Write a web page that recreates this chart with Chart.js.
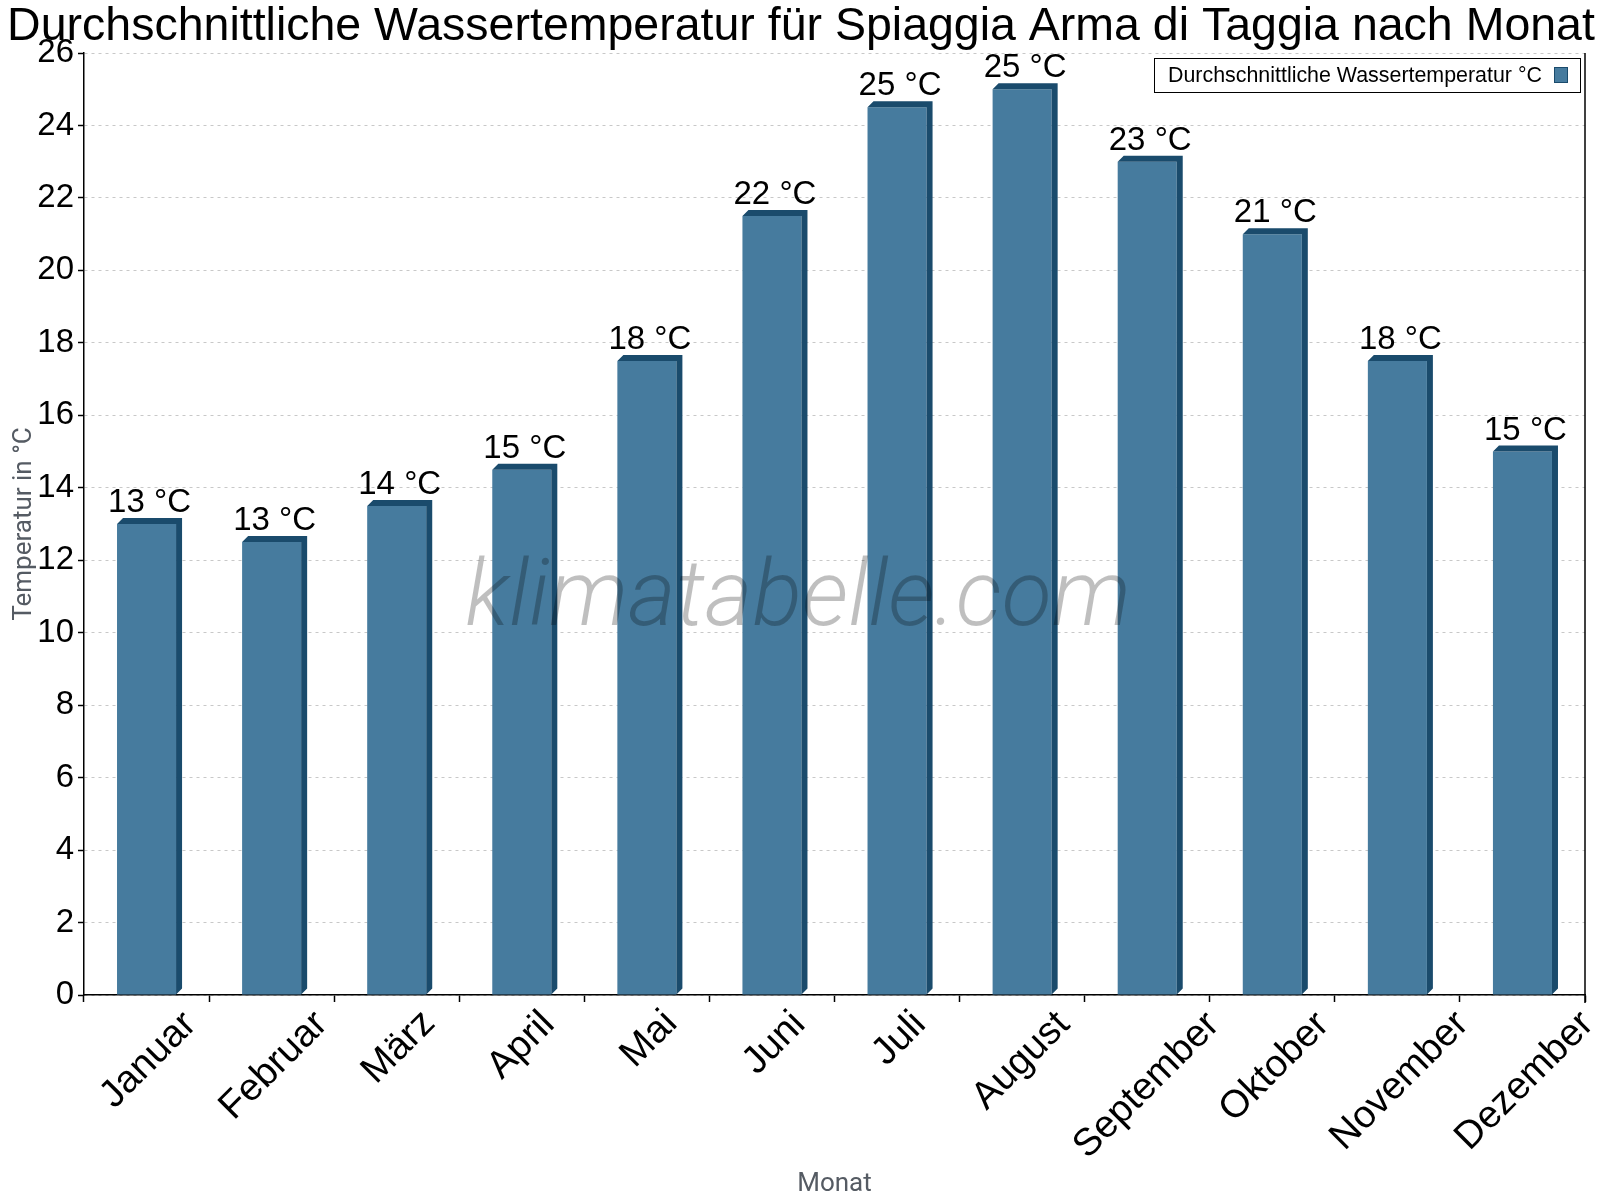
<!DOCTYPE html>
<html><head><meta charset="utf-8">
<script src="https://cdn.jsdelivr.net/npm/chart.js@4/dist/chart.umd.min.js"></script>
<style>html,body{margin:0;padding:0;background:#fff}#wrap{width:1600px;height:1200px;position:relative}</style>
</head><body><div id="wrap"><canvas id="c" width="1600" height="1200"></canvas></div>
<script>
const months = ['Januar','Februar','März','April','Mai','Juni','Juli','August','September','Oktober','November','Dezember'];
const waterTemp = [13, 12.5, 13.5, 14.5, 17.5, 21.5, 24.5, 25, 23, 21, 17.5, 15];
const seriesLabel = 'Durchschnittliche Wassertemperatur °C';
const chartTitle = 'Durchschnittliche Wassertemperatur für Spiaggia Arma di Taggia nach Monat';
const yTitle = 'Temperatur in °C';
const xTitle = 'Monat';
const watermark = 'klimatabelle.com';
const yMin = 0, yMax = 26, yStep = 2;

const FRONT = '#467B9E', DARK = '#1A4B6C', DEPTH = 6;
const FONT = '"Liberation Sans", Arial, sans-serif';

const deco = {
  id: 'deco',
  afterDatasetsDraw(chart) {
    const ctx = chart.ctx;
    const meta = chart.getDatasetMeta(0);
    meta.data.forEach((bar, i) => {
      const p = bar.getProps(['x', 'y', 'base', 'width'], true);
      const x0 = p.x - p.width / 2, x1 = p.x + p.width / 2;
      ctx.save();
      ctx.fillStyle = DARK;
      ctx.beginPath();
      ctx.moveTo(x0, p.y);
      ctx.lineTo(x0 + DEPTH, p.y - DEPTH);
      ctx.lineTo(x1 + DEPTH, p.y - DEPTH);
      ctx.lineTo(x1 + DEPTH, p.base - DEPTH);
      ctx.lineTo(x1, p.base);
      ctx.lineTo(x1, p.y);
      ctx.closePath();
      ctx.fill();
      ctx.font = '33px ' + FONT;
      ctx.textAlign = 'center';
      ctx.textBaseline = 'alphabetic';
      ctx.fillStyle = '#000';
      ctx.fillText(Math.round(waterTemp[i]) + ' °C', p.x + DEPTH / 2, p.y - 12);
      ctx.restore();
    });
    // watermark
    ctx.save();
    ctx.font = 'italic 300 92px Roboto, ' + FONT;
    ctx.fillStyle = 'rgba(0,0,0,0.25)';
    ctx.textAlign = 'center';
    ctx.textBaseline = 'alphabetic';
    ctx.fillText(watermark, 798, 625);
    ctx.restore();
  },
  afterDraw(chart) {
    const ctx = chart.ctx;
    const a = chart.chartArea;
    const xs = chart.scales.x;
    ctx.save();
    // right border
    ctx.strokeStyle = '#000';
    ctx.lineWidth = 1.5;
    ctx.beginPath();
    ctx.moveTo(a.right, a.top);
    ctx.lineTo(a.right, a.bottom + 8);
    ctx.stroke();
    // rotated month labels: bounding box centred under each category
    ctx.font = '38.5px ' + FONT;
    ctx.fillStyle = '#000';
    ctx.textAlign = 'center';
    ctx.textBaseline = 'alphabetic';
    const s = Math.SQRT1_2;
    chart.data.labels.forEach((lab, i) => {
      const m = ctx.measureText(lab);
      const L = m.actualBoundingBoxLeft + m.actualBoundingBoxRight;
      const asc = m.actualBoundingBoxAscent, desc = m.actualBoundingBoxDescent;
      const cx = xs.getPixelForValue(i);
      const px = cx - s * (desc - asc) / 2;
      const py = a.bottom + 12 + s * (L / 2 + asc);
      ctx.save();
      ctx.translate(px, py);
      ctx.rotate(-Math.PI / 4);
      ctx.fillText(lab, 0, 0);
      ctx.restore();
    });
    // title
    ctx.font = '46.5px ' + FONT;
    ctx.fillStyle = '#000';
    ctx.textAlign = 'center';
    ctx.textBaseline = 'alphabetic';
    ctx.fillText(chartTitle, 801, 40);
    // legend
    ctx.lineWidth = 1;
    ctx.strokeStyle = '#000';
    ctx.strokeRect(1154.5, 58.5, 426, 34);
    ctx.font = '21.4px ' + FONT;
    ctx.textAlign = 'left';
    ctx.fillText(chart.data.datasets[0].label, 1168, 82);
    ctx.fillStyle = FRONT;
    ctx.fillRect(1554, 67, 14, 16);
    ctx.strokeStyle = DARK;
    ctx.strokeRect(1554.5, 67.5, 13, 15);
    ctx.restore();
  }
};

new Chart(document.getElementById('c'), {
  type: 'bar',
  data: {
    labels: months,
    datasets: [{
      label: seriesLabel,
      data: waterTemp,
      backgroundColor: FRONT,
      borderWidth: 0,
      categoryPercentage: 1,
      barPercentage: 0.472
    }]
  },
  options: {
    responsive: false,
    animation: false,
    devicePixelRatio: 1,
    layout: { padding: { top: 53, right: 15, left: 0, bottom: 0 } },
    plugins: { legend: { display: false }, title: { display: false }, tooltip: { enabled: false } },
    scales: {
      x: {
        offset: true,
        grid: { display: true, drawOnChartArea: false, drawTicks: true, tickLength: 7, tickColor: '#000', tickWidth: 1.5, offset: true },
        border: { display: true, color: '#000', width: 1.5 },
        ticks: { display: false, autoSkip: false },
        title: { display: true, text: xTitle, color: '#555b63', font: { family: 'Roboto', size: 26 }, padding: { top: 0, bottom: 0 } },
        afterFit(s) { s.height = 205; s.paddingLeft = 0; s.paddingRight = 0; }
      },
      y: {
        min: yMin, max: yMax,
        grid: { color: '#c8c8c8', lineWidth: 1, drawTicks: true, tickLength: 6, tickColor: '#000', tickWidth: 1.5 },
        border: { display: true, color: '#000', width: 1.5, dash: [3, 4] },
        ticks: { stepSize: yStep, color: '#000', font: { family: FONT, size: 33 }, padding: 4 },
        title: { display: true, text: yTitle, color: '#555b63', font: { family: 'Roboto', size: 26 }, padding: { top: 9, bottom: 0 } },
        afterFit(s) { s.width = 84; }
      }
    }
  },
  plugins: [deco]
});
</script>
</body></html>
